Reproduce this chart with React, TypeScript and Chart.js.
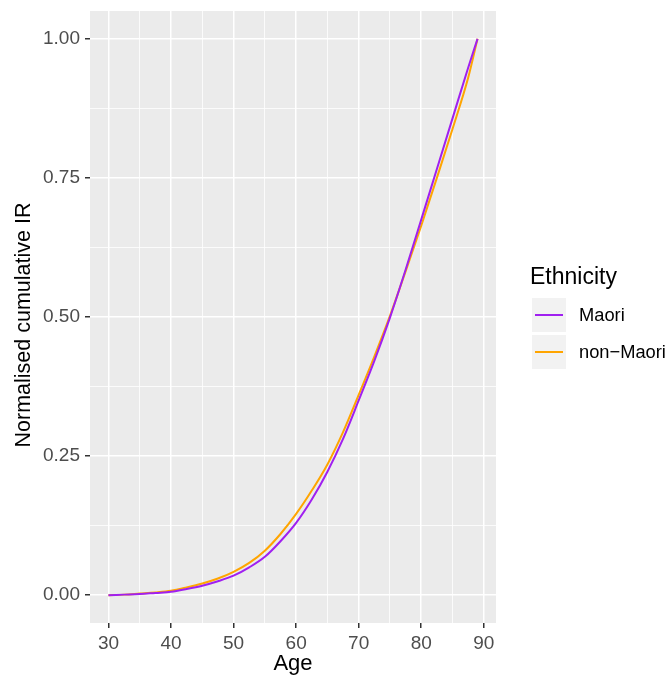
import React, { useEffect, useRef } from 'react';
import { Chart, registerables } from 'chart.js';
Chart.register(...registerables);

const AGES = [30, 32.5, 35, 37.5, 40, 42.5, 45, 47.5, 50, 52.5, 55, 57.5, 60, 62.5, 65, 67.5, 70, 72.5, 75, 77.5, 80, 82.5, 85, 87.5, 89];
const MAORI = [0.0, 0.001, 0.002, 0.004, 0.006, 0.011, 0.017, 0.025, 0.035, 0.050, 0.069, 0.097, 0.130, 0.172, 0.222, 0.281, 0.350, 0.421, 0.499, 0.585, 0.675, 0.766, 0.857, 0.948, 1.0];
const NON_MAORI = [0.0, 0.001, 0.003, 0.005, 0.008, 0.014, 0.021, 0.030, 0.042, 0.058, 0.080, 0.110, 0.146, 0.188, 0.235, 0.293, 0.360, 0.429, 0.502, 0.582, 0.664, 0.750, 0.838, 0.930, 1.0];

const SERIES_NAMES = ['Maori', 'non\u2212Maori'];
const SERIES_COLORS = ['#A020F0', '#FFA500'];

const X_MAJOR = [30, 40, 50, 60, 70, 80, 90];
const X_MINOR = [35, 45, 55, 65, 75, 85];
const Y_MAJOR = [0, 0.25, 0.5, 0.75, 1.0];
const Y_MINOR = [0.125, 0.375, 0.625, 0.875];

const X_TITLE = 'Age';
const Y_TITLE = 'Normalised cumulative IR';
const LEGEND_TITLE = 'Ethnicity';

const FONT = '"Liberation Sans", Arial, Helvetica, sans-serif';

const panelBg = {
  id: 'panelBg',
  beforeDraw(chart: any) {
    const { ctx, chartArea } = chart;
    ctx.save();
    ctx.fillStyle = '#EBEBEB';
    ctx.fillRect(chartArea.left, chartArea.top, chartArea.right - chartArea.left, chartArea.bottom - chartArea.top);
    ctx.restore();
  },
};

const yTitle = {
  id: 'yTitle',
  afterDraw(chart: any) {
    const { ctx, chartArea } = chart;
    ctx.save();
    ctx.translate(30, (chartArea.top + chartArea.bottom) / 2 + 8);
    ctx.rotate(-Math.PI / 2);
    ctx.font = `21.5px ${FONT}`;
    ctx.fillStyle = '#000000';
    ctx.textAlign = 'center';
    ctx.textBaseline = 'alphabetic';
    ctx.fillText(Y_TITLE, 0, 0);
    ctx.restore();
  },
};

export default function App() {
  const ref = useRef<HTMLCanvasElement | null>(null);
  useEffect(() => {
    if (!ref.current) return;
    const seriesValues = [MAORI, NON_MAORI];
    const isMajor = (arr: number[], v: number) => arr.some((m) => Math.abs(m - v) < 1e-9);
    const chart = new Chart(ref.current, {
      type: 'line',
      data: {
        datasets: seriesValues.map((vals, i) => ({
          label: SERIES_NAMES[i],
          data: AGES.map((a, j) => ({ x: a, y: vals[j] })),
          borderColor: SERIES_COLORS[i],
          backgroundColor: SERIES_COLORS[i],
          borderWidth: 2,
          pointRadius: 0,
          cubicInterpolationMode: 'monotone',
          fill: false,
        })),
      },
      options: {
        animation: false,
        responsive: false,
        layout: { padding: { top: 11, right: 176, left: 0, bottom: 0 } },
        plugins: { legend: { display: false }, tooltip: { enabled: false } },
        scales: {
          x: {
            type: 'linear',
            min: 27.05,
            max: 91.95,
            afterBuildTicks: (scale: any) => {
              scale.ticks = [...X_MAJOR, ...X_MINOR].sort((a, b) => a - b).map((v) => ({ value: v }));
            },
            afterFit: (scale: any) => {
              scale.height = 56;
              scale.paddingLeft = 0;
              scale.paddingRight = 0;
            },
            border: { display: false },
            grid: {
              color: '#FFFFFF',
              lineWidth: (c: any) => (isMajor(X_MAJOR, c.tick?.value) ? 1.5 : 0.8),
              tickColor: (c: any) => (isMajor(X_MAJOR, c.tick?.value) ? '#333333' : 'rgba(0,0,0,0)'),
              tickWidth: 1.5,
              tickLength: 5,
            },
            ticks: {
              autoSkip: false,
              maxRotation: 0,
              padding: 4,
              color: '#4D4D4D',
              font: { family: FONT, size: 19 },
              callback: (v: any) => (isMajor(X_MAJOR, Number(v)) ? String(v) : ''),
            },
            title: {
              display: true,
              text: X_TITLE,
              color: '#000000',
              font: { family: FONT, size: 22 },
              padding: { top: 0, bottom: 2 },
            },
          },
          y: {
            type: 'linear',
            min: -0.05,
            max: 1.05,
            afterBuildTicks: (scale: any) => {
              scale.ticks = [...Y_MAJOR, ...Y_MINOR].sort((a, b) => a - b).map((v) => ({ value: v }));
            },
            afterFit: (scale: any) => {
              scale.width = 90;
              scale.paddingTop = 0;
              scale.paddingBottom = 0;
            },
            border: { display: false },
            grid: {
              color: '#FFFFFF',
              lineWidth: (c: any) => (isMajor(Y_MAJOR, c.tick?.value) ? 1.5 : 0.8),
              tickColor: (c: any) => (isMajor(Y_MAJOR, c.tick?.value) ? '#333333' : 'rgba(0,0,0,0)'),
              tickWidth: 1.5,
              tickLength: 5,
            },
            ticks: {
              autoSkip: false,
              padding: 5,
              color: '#4D4D4D',
              font: { family: FONT, size: 19 },
              callback: (v: any) => (isMajor(Y_MAJOR, Number(v)) ? Number(v).toFixed(2) : ''),
            },
            title: { display: false },
          },
        },
      },
      plugins: [panelBg, yTitle],
    } as any);
    return () => chart.destroy();
  }, []);

  return (
    <div style={{ position: 'absolute', left: 0, top: 0, width: 672, height: 679, background: '#FFFFFF', fontFamily: FONT }}>
      <canvas ref={ref} width={672} height={679} style={{ position: 'absolute', left: 0, top: 0, width: 672, height: 679 }} />
      <div style={{ position: 'absolute', left: 530, top: 263, fontSize: 23, lineHeight: '27px', color: '#000' }}>{LEGEND_TITLE}</div>
      {SERIES_NAMES.map((name, i) => (
        <div key={name} style={{ position: 'absolute', left: 532, top: 298 + i * 37, height: 34, display: 'flex', alignItems: 'center' }}>
          <div style={{ width: 34, height: 34, background: '#F2F2F2', position: 'relative' }}>
            <div style={{ position: 'absolute', left: 3, right: 3, top: 16, height: 2, background: SERIES_COLORS[i] }} />
          </div>
          <div style={{ marginLeft: 13, fontSize: 18.3, color: '#000', whiteSpace: 'nowrap' }}>{name}</div>
        </div>
      ))}
    </div>
  );
}
